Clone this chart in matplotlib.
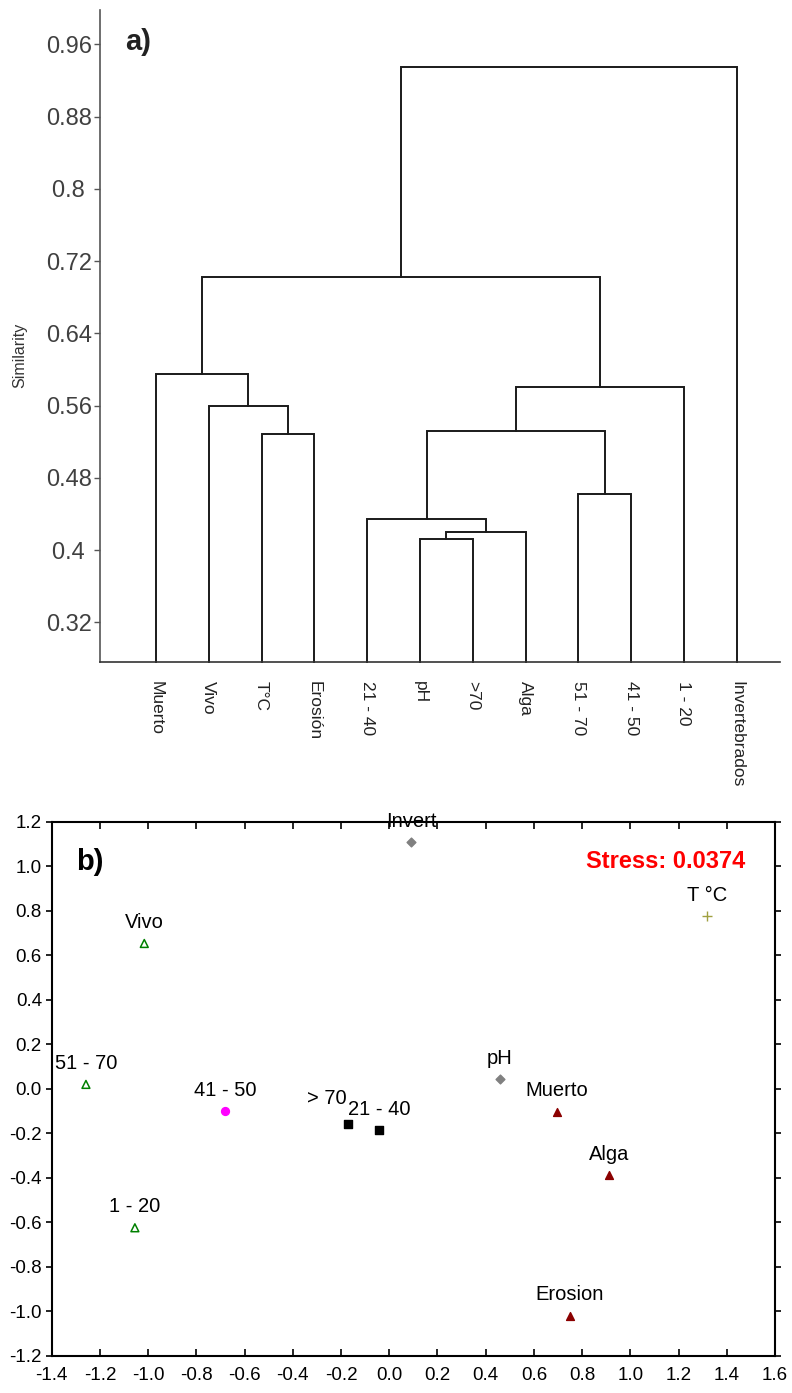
import matplotlib
matplotlib.use("Agg")
import matplotlib.pyplot as plt

plt.rcParams['font.family'] = ['Liberation Sans', 'DejaVu Sans']

# ---------------- Data: dendrogram (a) ----------------
leaf_labels = ["Muerto", "Vivo", "T°C", "Erosión", "21 - 40", "pH", ">70",
               "Alga", "51 - 70", "41 - 50", "1 - 20", "Invertebrados"]
# merges: (child_a, child_b, similarity); ids >= 12 refer to earlier merges
merge_a = [2, 1, 0, 5, 15, 4, 8, 17, 19, 14, 21]
merge_b = [3, 12, 13, 6, 7, 16, 9, 18, 10, 20, 11]
merge_h = [0.528, 0.560, 0.5946, 0.4127, 0.420, 0.434, 0.462, 0.5315, 0.580, 0.702, 0.9345]
sim_ticks = [0.32, 0.4, 0.48, 0.56, 0.64, 0.72, 0.8, 0.88, 0.96]

# ---------------- Data: MDS (b) ----------------
mds_labels = ["Invert", "Vivo", "T °C", "51 - 70", "41 - 50", "> 70", "21 - 40",
              "pH", "Muerto", "Alga", "1 - 20", "Erosion"]
mds_x = [0.090, -1.016, 1.319, -1.258, -0.680, -0.173, -0.041, 0.459, 0.694, 0.912, -1.055, 0.748]
mds_y = [1.108, 0.653, 0.775, 0.020, -0.100, -0.160, -0.185, 0.044, -0.102, -0.388, -0.624, -1.019]
mds_group = ["grey", "green", "olive", "green", "magenta", "black", "black",
             "grey", "red", "red", "green", "red"]
stress_text = "Stress: 0.0374"

W, H = 792, 1393
fig = plt.figure(figsize=(W / 100, H / 100), dpi=100)

# ---------------- Panel a ----------------
axa = fig.add_axes([100 / W, 1 - 662 / H, 680 / W, 652 / H])
ymin, ymax = 0.276, 0.998
n = len(leaf_labels)
pos = {i: i + 1 for i in range(n)}
hgt = {i: ymin for i in range(n)}
lc = '#1a1a1a'
for k, (a, b, h) in enumerate(zip(merge_a, merge_b, merge_h)):
    cid = n + k
    xa, xb = pos[a], pos[b]
    axa.plot([xa, xa, xb, xb], [hgt[a], h, h, hgt[b]], color=lc, lw=1.4,
             solid_joinstyle='miter', clip_on=False)
    pos[cid] = (xa + xb) / 2
    hgt[cid] = h

axa.set_xlim(-0.06, 12.82)
axa.set_ylim(ymin, ymax)
axa.set_yticks(sim_ticks)
axa.set_yticklabels([f"{t:g}".ljust(4) for t in sim_ticks], color='#404040', fontsize=17)
axa.set_xticks(range(1, n + 1))
axa.set_xticklabels(leaf_labels, rotation=-90, fontsize=12.5, va='top', ha='center',
                    color='#222222')
axa.tick_params(axis='x', length=0, pad=14)
axa.tick_params(axis='y', length=4, width=1, color='#555555', pad=2)
for s in ['top', 'right']:
    axa.spines[s].set_visible(False)
axa.spines['left'].set_color('#555555')
axa.spines['left'].set_linewidth(1.2)
axa.spines['bottom'].set_color('#333333')
axa.spines['bottom'].set_linewidth(1.2)
fig.text(20 / W, 1 - 355 / H, "Similarity", rotation=90, fontsize=11.5,
         ha='center', va='center', color='#333333')
fig.text(138 / W, 1 - 42 / H, "a)", fontsize=21, fontweight='bold',
         ha='center', va='center', color='#222222')

# ---------------- Panel b ----------------
axb = fig.add_axes([51.7 / W, 1 - 1356 / H, 723.3 / W, 534.3 / H])
styles = {
    "grey": dict(marker='D', facecolor='#808080', edgecolor='#808080', s=20),
    "green": dict(marker='^', facecolor='none', edgecolor='#008000', s=32, linewidths=1.1),
    "olive": dict(marker='+', color='#a0a040', s=45, linewidths=1.0),
    "magenta": dict(marker='o', facecolor='#ff00ff', edgecolor='#ff00ff', s=32),
    "black": dict(marker='s', facecolor='black', edgecolor='black', s=32),
    "red": dict(marker='^', facecolor='#8b0000', edgecolor='#8b0000', s=32),
}
label_offsets = {"> 70": (-15, 19)}
for x, y, g, lab in zip(mds_x, mds_y, mds_group, mds_labels):
    axb.scatter([x], [y], zorder=3, clip_on=False, **styles[g])
    axb.annotate(lab, (x, y), xytext=label_offsets.get(lab, (0, 15)),
                 textcoords='offset points', ha='center', va='center',
                 fontsize=14.5, color='black', annotation_clip=False)

axb.set_xlim(-1.4, 1.6)
axb.set_ylim(-1.2, 1.2)
xt = [round(-1.4 + 0.2 * i, 1) for i in range(16)]
yt = [round(-1.2 + 0.2 * i, 1) for i in range(13)]
axb.set_xticks(xt)
axb.set_xticklabels([f"{v:.1f}" for v in xt], fontsize=13.5)
axb.set_yticks(yt)
axb.set_yticklabels([f"{v:.1f}" for v in yt], fontsize=13.5)
axb.tick_params(axis='both', which='both', top=True, right=True,
                direction='in', length=5, width=1.2)
axb.tick_params(axis='x', pad=8)
axb.tick_params(axis='y', which='both', left=True, direction='out', length=4, pad=3)
for s in axb.spines.values():
    s.set_linewidth(1.5)
axb.text(0.9595, 0.925, stress_text, transform=axb.transAxes, ha='right', va='center',
         color='red', fontsize=17, fontweight='bold')
axb.text(0.053, 0.925, "b)", transform=axb.transAxes, ha='center', va='center',
         fontsize=21, fontweight='bold')

fig.savefig("out.png", dpi=100)
